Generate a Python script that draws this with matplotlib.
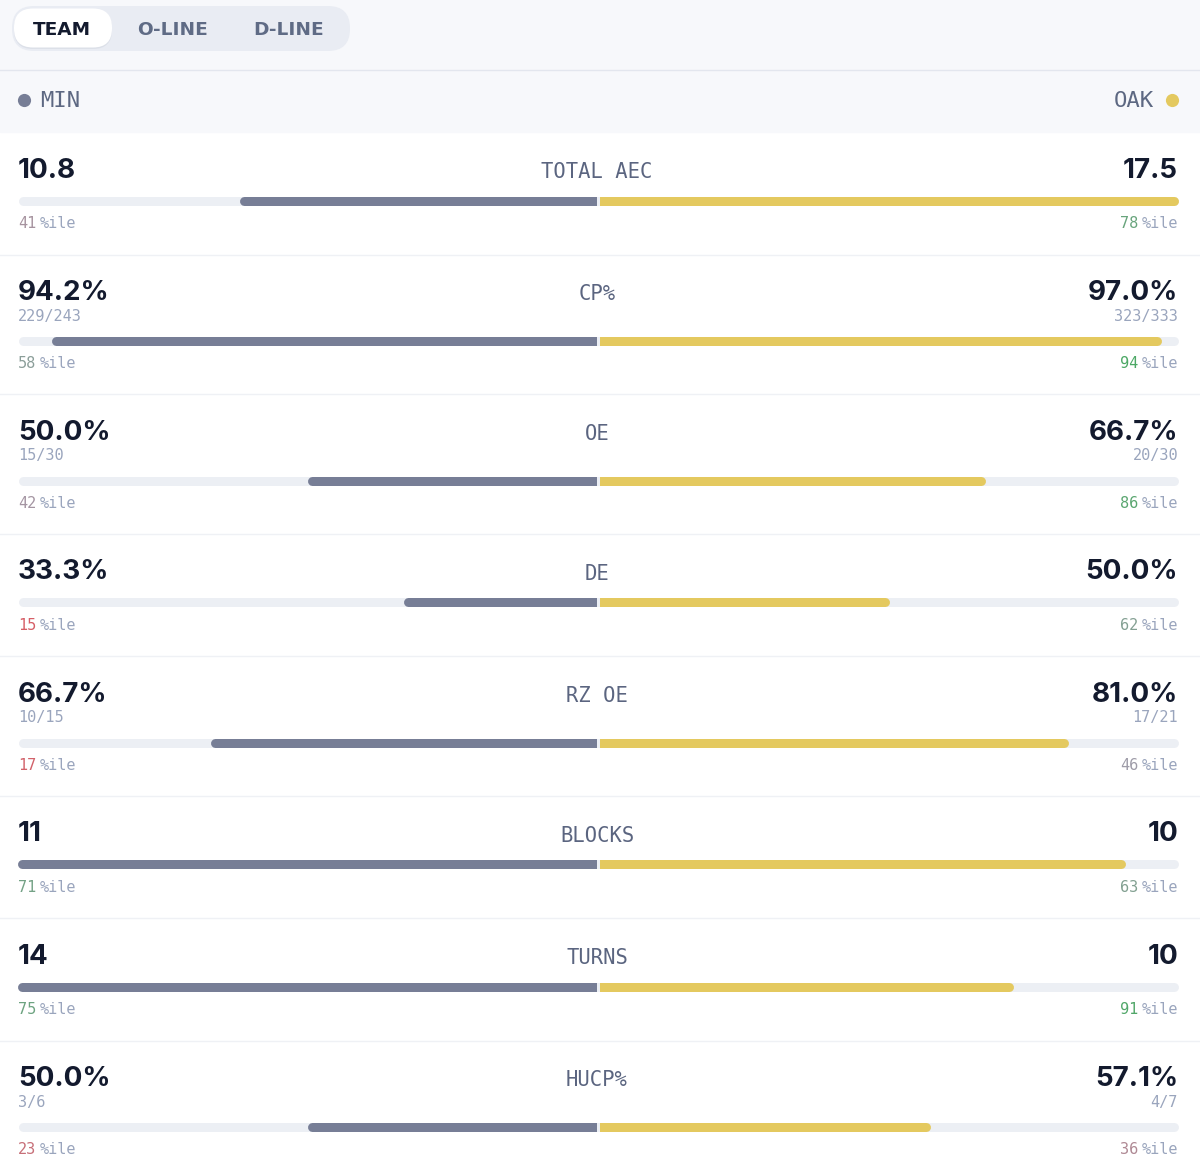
import numpy as np
import matplotlib.pyplot as plt
from matplotlib.patches import FancyBboxPatch, Rectangle

# ---- data ----
metrics = ["TOTAL AEC", "CP%", "OE", "DE", "RZ OE", "BLOCKS", "TURNS", "HUCP%"]
min_vals = [10.8, 94.2, 50.0, 33.3, 66.7, 11, 14, 50.0]
oak_vals = [17.5, 97.0, 66.7, 50.0, 81.0, 10, 10, 57.1]
is_pct = [False, True, True, True, True, False, False, True]
min_frac = ["", "229/243", "15/30", "", "10/15", "", "", "3/6"]
oak_frac = ["", "323/333", "20/30", "", "17/21", "", "", "4/7"]
min_pctile = [41, 58, 42, 15, 17, 71, 75, 23]
oak_pctile = [78, 94, 86, 62, 46, 63, 91, 36]
teams = ["MIN", "OAK"]
tabs = ["TEAM", "O-LINE", "D-LINE"]

# ---- style ----
W, H = 1200, 1172
DARK = "#131a2e"
LABEL = "#5b6580"
SUB = "#9aa5bd"
GREY_BAR = "#777e96"
GOLD_BAR = "#e4c95f"
TRACK = "#eceff4"
MONO = "DejaVu Sans Mono"
NUMFONT = ["Inter", "DejaVu Sans"]

LEFT, RIGHT, MID_L, MID_R = 18, 1178, 596.5, 599.5
BAR_PX = 9
BAR_LW = BAR_PX * 0.72


def pctile_color(p):
    red = np.array([0.84, 0.37, 0.40])
    grey = np.array([0.62, 0.61, 0.66])
    green = np.array([0.29, 0.66, 0.39])
    if p <= 45:
        t = np.clip((p - 15) / 30, 0, 1)
        c = red + (grey - red) * t
    else:
        t = np.clip((p - 47) / 48, 0, 1)
        c = grey + (green - grey) * t
    return tuple(c)


def fmt(v, pct):
    return f"{v:.1f}%" if pct else (f"{v:g}")


fig = plt.figure(figsize=(W / 100, H / 100), dpi=100)
ax = fig.add_axes([0, 0, 1, 1])
ax.set_xlim(0, W)
ax.set_ylim(H, 0)
ax.axis("off")

# header band
ax.add_patch(Rectangle((0, 0), W, 132, color="#f7f8fb", zorder=0))
ax.plot([0, W], [69.5, 69.5], color="#e3e6ee", lw=1, zorder=1)

# tab switcher
ax.add_patch(FancyBboxPatch((12, 6), 338, 45, boxstyle="round,pad=0,rounding_size=22",
                            fc="#e9ecf3", ec="none", zorder=1))
ax.add_patch(FancyBboxPatch((14, 10), 98, 39, boxstyle="round,pad=0,rounding_size=19",
                            fc="#d9dde6", ec="none", zorder=2, alpha=0.8))
ax.add_patch(FancyBboxPatch((14, 8.5), 98, 39, boxstyle="round,pad=0,rounding_size=19",
                            fc="white", ec="none", zorder=3))
for name, x, col in zip(tabs, [62, 172, 289], [DARK, "#5f6b85", "#5f6b85"]):
    ax.text(x, 35, name, ha="center", va="baseline", fontsize=13.3, fontweight="bold",
            color=col, family="DejaVu Sans", zorder=4)

# team legend
ax.scatter([24], [100], s=90, color=GREY_BAR, lw=0, zorder=3)
ax.text(40, 107, teams[0], ha="left", va="baseline", fontsize=16, family=MONO,
        color="#5d6882")
ax.scatter([1172], [100], s=90, color=GOLD_BAR, lw=0, zorder=3)
ax.text(1154, 107, teams[1], ha="right", va="baseline", fontsize=16, family=MONO,
        color="#5d6882")


def pill(x_in, x_out, y, color, z, both_round=False):
    # one round-capped stroke; for half bars it overshoots the centre and is clipped
    r = BAR_PX / 2
    sign = 1 if x_out > x_in else -1
    start = x_in + sign * r if both_round else x_in - sign * 2 * r
    line, = ax.plot([start, x_out - sign * r], [y, y], color=color, lw=BAR_LW,
                    solid_capstyle="round", zorder=z)
    if not both_round:
        a = min(x_in, x_out + sign * 10)
        clip = Rectangle((a, y - 10), abs(x_out - x_in) + 10, 20, transform=ax.transData)
        line.set_clip_path(clip)


top = 132
for i, m in enumerate(metrics):
    has_frac = bool(min_frac[i] or oak_frac[i])
    h = 139.5 if has_frac else 122.5
    off = 18 if has_frac else 0

    # big values
    ax.text(LEFT, top + 45.5, fmt(min_vals[i], is_pct[i]), ha="left", va="baseline",
            fontsize=20, fontweight="bold", color=DARK, family=NUMFONT)
    ax.text(RIGHT, top + 45.5, fmt(oak_vals[i], is_pct[i]), ha="right", va="baseline",
            fontsize=20, fontweight="bold", color=DARK, family=NUMFONT)
    # metric label
    ax.text(597, top + 46, m, ha="center", va="baseline", fontsize=14.8, family=MONO,
            color=LABEL)
    # fractions
    if has_frac:
        ax.text(LEFT, top + 66, min_frac[i], ha="left", va="baseline", fontsize=11,
                family=MONO, color=SUB)
        ax.text(RIGHT, top + 66, oak_frac[i], ha="right", va="baseline", fontsize=11,
                family=MONO, color=SUB)

    # bars
    yb = top + 68.5 + off
    scale = 100.0 if is_pct[i] else max(min_vals[i], oak_vals[i])
    half = 579.0
    pill(LEFT, RIGHT, yb, TRACK, 2, both_round=True)
    pill(MID_L, MID_L - half * min_vals[i] / scale, yb, GREY_BAR, 3)
    pill(MID_R, MID_R + half * oak_vals[i] / scale, yb, GOLD_BAR, 3)

    # percentiles
    yp = top + 96 + off
    ax.text(LEFT, yp, str(min_pctile[i]), ha="left", va="baseline", fontsize=11,
            family=MONO, color=pctile_color(min_pctile[i]))
    ax.text(40, yp, "%ile", ha="left", va="baseline", fontsize=11, family=MONO, color=SUB)
    ax.text(1138, yp, str(oak_pctile[i]), ha="right", va="baseline", fontsize=11,
            family=MONO, color=pctile_color(oak_pctile[i]))
    ax.text(RIGHT, yp, "%ile", ha="right", va="baseline", fontsize=11, family=MONO, color=SUB)

    top += h
    if i < len(metrics) - 1:
        ax.plot([0, W], [top, top], color="#eff1f5", lw=1, zorder=1)

fig.savefig("out.png", dpi=100, facecolor="white")
